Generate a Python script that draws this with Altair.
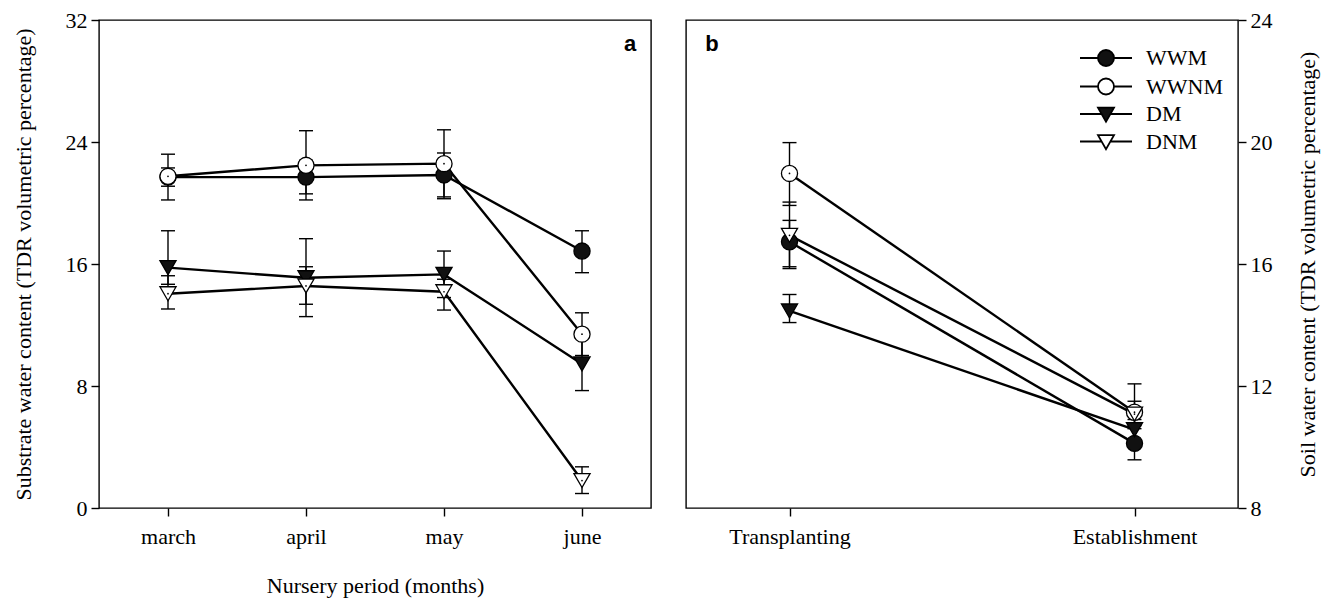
import altair as alt
import pandas as pd

series = ["WWM", "WWNM", "DM", "DNM"]
open_series = ["WWNM", "DNM"]
circle_series = ["WWM", "WWNM"]
triangle_series = ["DM", "DNM"]

# Panel a: nursery period
months = ["march", "april", "may", "june"]
a_mean = {
    "WWM": [21.7, 21.7, 21.84, 16.85],
    "WWNM": [21.75, 22.47, 22.58, 11.4],
    "DM": [15.76, 15.1, 15.32, 9.45],
    "DNM": [14.05, 14.56, 14.18, 1.8],
}
a_hi = {
    "WWM": [22.3, 22.8, 23.28, 18.18],
    "WWNM": [23.2, 24.74, 24.8, 12.8],
    "DM": [18.18, 17.66, 16.85, 11.2],
    "DNM": [15.23, 15.82, 15.0, 2.7],
}
a_lo = {
    "WWM": [21.1, 20.6, 20.28, 15.43],
    "WWNM": [20.2, 20.2, 20.4, 10.0],
    "DM": [14.67, 12.55, 13.8, 7.7],
    "DNM": [13.05, 13.36, 12.98, 0.95],
}

# Panel b: field stages
stages = ["Transplanting", "Establishment"]
b_mean = {
    "WWM": [16.73, 10.12],
    "WWNM": [18.97, 11.14],
    "DM": [14.46, 10.57],
    "DNM": [16.94, 11.08],
}
b_hi = {
    "WWM": [17.43, 10.6],
    "WWNM": [19.98, 12.07],
    "DM": [15.0, 10.9],
    "DNM": [18.03, 11.5],
}
b_lo = {
    "WWM": [15.91, 9.58],
    "WWNM": [17.92, 10.2],
    "DM": [14.08, 10.2],
    "DNM": [15.85, 10.7],
}

panel_labels = ["a", "b"]
left_ticks = [0, 8, 16, 24, 32]
right_ticks = [8, 12, 16, 20, 24]

fill_range = ["#111111", "white", "#111111", "white"]
stroke_range = ["black", "black", "black", "black"]
circ_path = "M-3.25,0H-1M1,0H3.25M-1,0A1,1 0 1,0 1,0A1,1 0 1,0 -1,0Z"
tri_path = "M-3.25,0H-0.55M0.55,0H3.25M-1,-0.8L1,-0.8L0,0.95Z"
legend_paths = [circ_path, circ_path, tri_path, tri_path]

SERIF = "Liberation Serif"


def build_df(cats, mean, hi, lo):
    rows = []
    for s in series:
        for i, c in enumerate(cats):
            rows.append({"series": s, "cat": c, "m": mean[s][i],
                         "hi": hi[s][i], "lo": lo[s][i]})
    return pd.DataFrame(rows)


def panel(df, cats, xpad, ydom, yticks, yorient, ytitle, ytitlepad, xtitle,
          label, label_x, with_legend):
    xaxis_kw = dict(labelAngle=0, tickSize=8, labelPadding=10, tickWidth=1.4,
                    tickColor="black", domain=False, grid=False, titlePadding=28)
    x = alt.X("cat:N", sort=cats, scale=alt.Scale(type="point", padding=xpad),
              axis=alt.Axis(title=xtitle if xtitle else None, **xaxis_kw))
    yaxis = alt.Axis(title=ytitle, orient=yorient, values=yticks, tickSize=8,
                     tickWidth=1.4, tickColor="black", labelPadding=4, domain=False,
                     grid=False, titlePadding=ytitlepad, titleAngle=270)
    yscale = alt.Scale(domain=ydom, nice=False, zero=False)

    def Y(field):
        return alt.Y(field, type="quantitative", scale=yscale, axis=yaxis, title=ytitle)

    is_open = alt.FieldOneOfPredicate(field="series", oneOf=open_series)
    fill_cond = alt.condition(is_open, alt.value("white"), alt.value("#111111"))

    base = alt.Chart(df)
    lines = base.mark_line(color="black", strokeWidth=2.4).encode(
        x=x, y=Y("m"), detail="series:N")
    err = base.mark_rule(color="black", strokeWidth=1.4).encode(
        x=x, y=Y("lo"), y2="hi")
    cap_hi = base.mark_tick(orient="horizontal", size=14, thickness=1.4,
                            color="black", opacity=1).encode(x=x, y=Y("hi"))
    cap_lo = base.mark_tick(orient="horizontal", size=14, thickness=1.4,
                            color="black", opacity=1).encode(x=x, y=Y("lo"))
    circles = base.transform_filter(
        alt.FieldOneOfPredicate(field="series", oneOf=circle_series)
    ).mark_point(shape="circle", filled=True, size=260, stroke="black",
                 strokeWidth=1.3, opacity=1).encode(x=x, y=Y("m"), fill=fill_cond)
    tris = base.transform_filter(
        alt.FieldOneOfPredicate(field="series", oneOf=triangle_series)
    ).mark_point(shape="triangle-down", filled=True, size=260, stroke="black",
                 strokeWidth=1.3, opacity=1).encode(x=x, y=Y("m"), fill=fill_cond)
    dots = base.transform_filter(is_open).mark_circle(
        size=3, color="black", opacity=1).encode(x=x, y=Y("m"))

    lab = alt.Chart(pd.DataFrame({"t": [label]})).mark_text(
        font="Liberation Sans", fontSize=22, fontWeight="bold", color="black",
        align="center", baseline="middle"
    ).encode(text="t:N", x=alt.value(label_x), y=alt.value(24))

    layers = [lines, err, cap_hi, cap_lo, circles, tris, dots, lab]
    if with_legend:
        leg = alt.Legend(title=None, orient="none", legendX=409, legendY=27,
                         symbolSize=256, symbolStrokeWidth=1.8, symbolOpacity=1,
                         labelFont=SERIF, labelFontSize=22, labelColor="black",
                         labelOffset=29, rowPadding=4.5, padding=0)
        legend_layer = base.transform_filter("false").mark_point(
            filled=False, size=256, strokeWidth=1.8, opacity=1
        ).encode(
            x=x, y=Y("m"),
            shape=alt.Shape("series:N", scale=alt.Scale(domain=series, range=legend_paths), legend=leg),
            fill=alt.Fill("series:N", scale=alt.Scale(domain=series, range=fill_range), legend=leg),
            stroke=alt.Stroke("series:N", scale=alt.Scale(domain=series, range=stroke_range), legend=leg),
        )
        layers.append(legend_layer)
    return alt.layer(*layers).properties(width=552, height=488)


df_a = build_df(months, a_mean, a_hi, a_lo)
df_b = build_df(stages, b_mean, b_hi, b_lo)

left = panel(df_a, months, 0.5, [0, 32], left_ticks, "left",
             "Substrate water content (TDR volumetric percentage)", 30,
             "Nursery period (months)", panel_labels[0], 531, False)
right = panel(df_b, stages, 0.3, [8, 24], right_ticks, "right",
              "Soil water content (TDR volumetric percentage)", 47,
              None, panel_labels[1], 26, True)

chart = alt.hconcat(left, right, spacing=33).resolve_legend(
    shape="independent", fill="independent", stroke="independent"
).properties(
    padding={"left": 11, "top": 8, "right": 5, "bottom": 5},
    background="white",
).configure_view(
    stroke="black", strokeWidth=1.4
).configure_axis(
    labelFont=SERIF, titleFont=SERIF, labelFontSize=22, titleFontSize=22,
    titleFontWeight="normal", labelColor="black", titleColor="black"
)

chart.save("out.html", embed_options={"renderer": "svg", "actions": False})
